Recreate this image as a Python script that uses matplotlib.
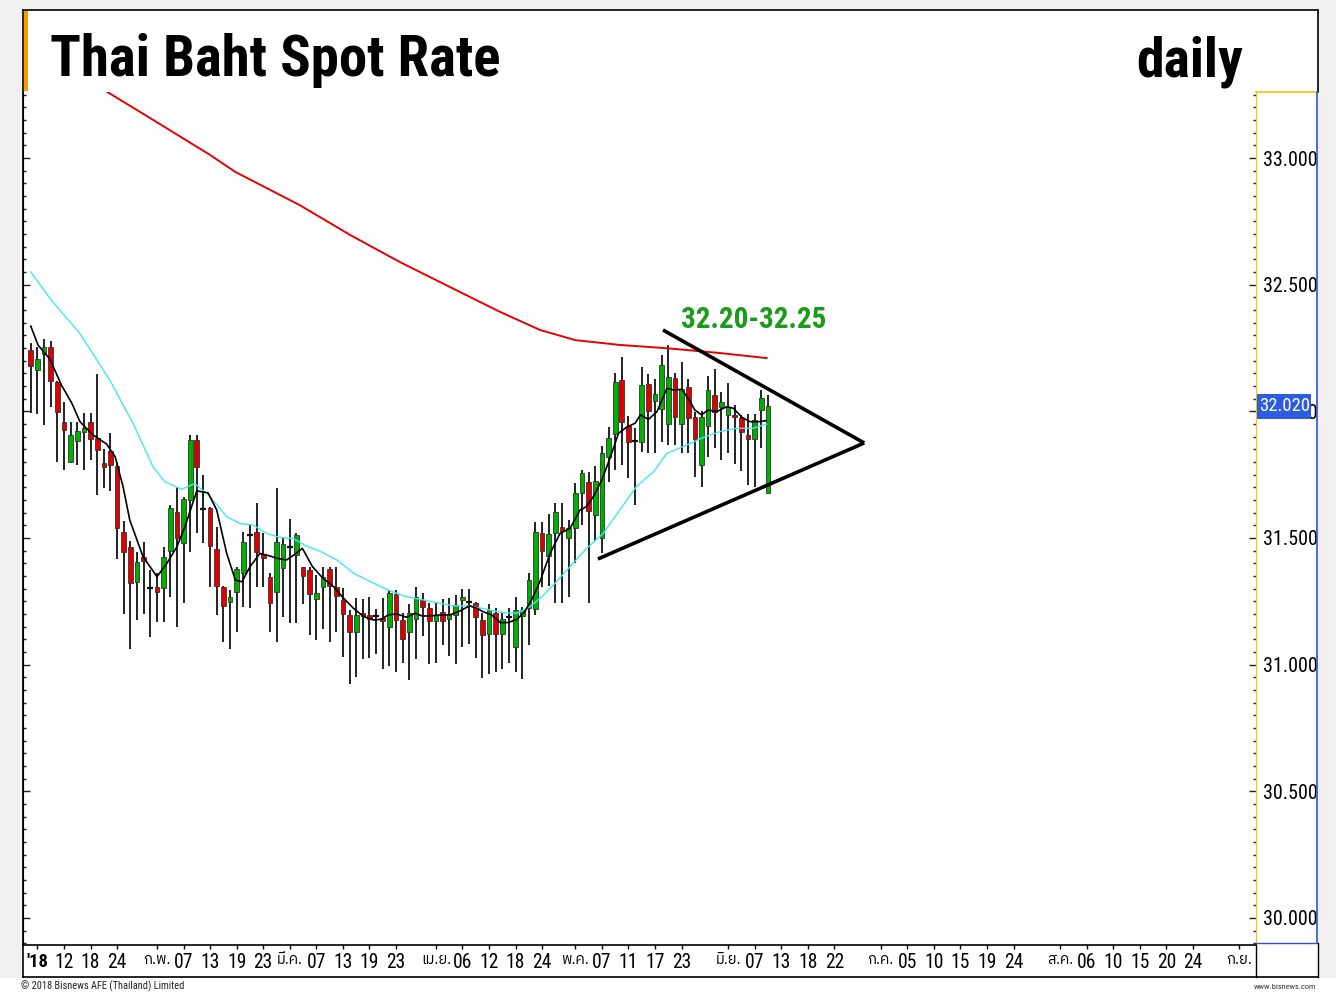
import os
import matplotlib
matplotlib.use("Agg")
import matplotlib.pyplot as plt
from matplotlib import font_manager as fm
from matplotlib.ft2font import FT2Font
from matplotlib.lines import Line2D
from matplotlib.patches import Rectangle
from matplotlib.ticker import MultipleLocator, FixedLocator, FormatStrFormatter
import matplotlib.transforms as mtrans

W, H = 1336, 993

# daily candles, index 0 = 5 Jan 2018 (weekdays)
opens = [32.242, 32.165, 32.228, 32.255, 32.117, 31.956, 31.801, 31.882, 31.919, 31.956,
         31.893, 31.797, 31.843, 31.785, 31.522, 31.464, 31.327, 31.426, 31.304, 31.305,
         31.301, 31.448, 31.604, 31.481, 31.650, 31.887, 31.613, 31.617, 31.456, 31.305,
         31.248, 31.288, 31.360, 31.511, 31.522, 31.437, 31.347, 31.288, 31.380, 31.463,
         31.433, 31.384, 31.373, 31.258, 31.308, 31.376, 31.305, 31.255, 31.196, 31.128,
         31.203, 31.196, 31.193, 31.183, 31.150, 31.277, 31.176, 31.128, 31.180, 31.255,
         31.225, 31.173, 31.209, 31.180, 31.196, 31.255, 31.246, 31.245, 31.176, 31.120,
         31.205, 31.120, 31.187, 31.071, 31.190, 31.222, 31.220, 31.521, 31.429, 31.521,
         31.542, 31.499, 31.538, 31.679, 31.722, 31.591, 31.499, 31.818, 31.910, 32.124,
         31.942, 31.884, 31.880, 32.108, 32.041, 32.008, 31.949, 32.130, 31.950, 32.095,
         31.976, 31.788, 31.942, 32.064, 32.018, 31.985, 31.985, 31.972, 31.906, 31.889,
         32.005, 31.679]
highs = [32.268, 32.255, 32.284, 32.276, 32.120, 32.038, 31.959, 31.959, 31.994, 31.994,
         32.147, 31.850, 31.915, 31.799, 31.567, 31.489, 31.446, 31.485, 31.373, 31.360,
         31.465, 31.630, 31.702, 31.663, 31.906, 31.906, 31.749, 31.623, 31.544, 31.310,
         31.295, 31.387, 31.525, 31.555, 31.639, 31.518, 31.360, 31.696, 31.498, 31.574,
         31.518, 31.387, 31.387, 31.354, 31.384, 31.384, 31.384, 31.301, 31.216, 31.262,
         31.258, 31.268, 31.220, 31.262, 31.295, 31.295, 31.203, 31.240, 31.305, 31.284,
         31.245, 31.245, 31.258, 31.262, 31.275, 31.297, 31.297, 31.249, 31.203, 31.238,
         31.222, 31.209, 31.222, 31.268, 31.229, 31.363, 31.564, 31.564, 31.593, 31.637,
         31.637, 31.571, 31.716, 31.768, 31.762, 31.784, 31.863, 31.939, 32.150, 32.213,
         31.981, 31.933, 32.176, 32.147, 32.126, 32.222, 32.262, 32.152, 32.196, 32.126,
         31.999, 32.000, 32.139, 32.166, 32.078, 32.110, 32.025, 31.985, 31.989, 31.990,
         32.084, 32.064]
lows = [31.994, 31.988, 31.946, 32.018, 31.801, 31.768, 31.795, 31.788, 31.768, 31.807,
        31.669, 31.698, 31.685, 31.417, 31.198, 31.060, 31.176, 31.198, 31.110, 31.170,
        31.169, 31.268, 31.150, 31.242, 31.446, 31.518, 31.479, 31.308, 31.196, 31.090,
        31.060, 31.127, 31.229, 31.222, 31.308, 31.308, 31.127, 31.090, 31.189, 31.163,
        31.163, 31.239, 31.117, 31.097, 31.139, 31.088, 31.130, 31.031, 30.922, 30.950,
        31.021, 31.025, 31.040, 30.982, 30.996, 30.972, 31.005, 30.939, 31.022, 31.111,
        31.003, 31.005, 31.078, 31.032, 31.001, 31.071, 31.080, 31.025, 30.949, 30.963,
        30.969, 30.981, 31.005, 30.972, 30.942, 31.078, 31.196, 31.308, 31.312, 31.242,
        31.242, 31.268, 31.403, 31.551, 31.242, 31.486, 31.439, 31.722, 31.768, 31.788,
        31.735, 31.630, 31.841, 31.834, 31.834, 31.880, 31.867, 31.867, 31.834, 31.834,
        31.739, 31.703, 31.821, 31.854, 31.808, 31.834, 31.792, 31.766, 31.709, 31.703,
        31.854, 31.676]
closes = [32.178, 32.205, 32.252, 32.119, 31.998, 31.926, 31.906, 31.922, 31.935, 31.889,
          31.847, 31.779, 31.788, 31.538, 31.446, 31.321, 31.405, 31.410, 31.304, 31.288,
          31.426, 31.617, 31.499, 31.652, 31.887, 31.779, 31.613, 31.468, 31.310, 31.231,
          31.265, 31.376, 31.485, 31.511, 31.446, 31.419, 31.242, 31.485, 31.476, 31.463,
          31.511, 31.351, 31.278, 31.281, 31.347, 31.310, 31.271, 31.199, 31.128, 31.196,
          31.190, 31.179, 31.193, 31.173, 31.284, 31.176, 31.100, 31.203, 31.266, 31.229,
          31.173, 31.196, 31.173, 31.200, 31.235, 31.268, 31.246, 31.189, 31.117, 31.216,
          31.121, 31.179, 31.187, 31.216, 31.216, 31.334, 31.522, 31.450, 31.514, 31.601,
          31.527, 31.541, 31.676, 31.755, 31.608, 31.726, 31.834, 31.893, 32.117, 31.959,
          31.880, 31.884, 32.104, 32.003, 32.067, 32.183, 32.137, 31.979, 32.087, 31.972,
          31.889, 31.979, 32.084, 31.999, 32.038, 32.018, 31.976, 31.917, 31.891, 31.966,
          32.051, 32.020]

# moving averages (index, value)
ma_short = [(0, 32.336), (1.1, 32.261), (2.9, 32.205), (4.6, 32.104), (6.2, 32.031), (7.4, 31.959),
            (9.4, 31.906), (11.4, 31.871), (12.7, 31.821), (13.9, 31.702), (14.9, 31.571), (16.9, 31.426),
            (19.0, 31.347), (20.5, 31.400), (22.0, 31.465), (23.2, 31.544), (25.0, 31.686), (26.7, 31.678),
            (28.0, 31.610), (29.5, 31.439), (30.8, 31.334), (31.8, 31.327), (33.0, 31.386), (34.5, 31.439),
            (36.0, 31.429), (37.0, 31.420), (38.5, 31.413), (39.8, 31.436), (40.9, 31.459), (42.4, 31.387),
            (44.0, 31.341), (45.6, 31.308), (47.1, 31.262), (48.6, 31.222), (50.1, 31.190), (51.6, 31.176),
            (52.8, 31.179), (53.8, 31.196), (55.1, 31.200), (56.6, 31.187), (57.9, 31.203), (58.9, 31.192),
            (60.1, 31.192), (61.6, 31.196), (63.1, 31.196), (64.4, 31.209), (66.1, 31.232), (67.2, 31.222),
            (68.1, 31.209), (69.4, 31.196), (70.7, 31.166), (71.9, 31.166), (73.2, 31.179), (74.4, 31.209),
            (75.5, 31.260), (76.7, 31.330), (78.2, 31.439), (79.7, 31.518), (81.2, 31.538), (82.7, 31.610),
            (83.7, 31.624), (84.7, 31.663), (86.0, 31.729), (87.2, 31.814), (88.5, 31.913), (89.7, 31.937),
            (91.0, 31.953), (91.8, 31.986), (93.0, 31.968), (94.3, 31.999), (95.8, 32.091), (96.8, 32.084),
            (98.0, 32.087), (99.0, 32.051), (100.0, 32.005), (101.0, 31.986), (102.0, 32.005), (103.3, 31.999),
            (104.8, 32.018), (105.8, 32.012), (107.1, 31.976), (108.3, 31.959), (109.6, 31.959), (110.7, 31.963)]
ma_mid = [(0, 32.550), (3.1, 32.439), (7.4, 32.307), (11.9, 32.123), (15.4, 31.952), (18.4, 31.781),
          (20.2, 31.722), (22.7, 31.692), (24.7, 31.715), (27.0, 31.663), (29.5, 31.584), (31.5, 31.557),
          (33.5, 31.551), (35.5, 31.518), (37.5, 31.502), (39.5, 31.498), (41.5, 31.468), (43.6, 31.447),
          (46.1, 31.413), (48.6, 31.361), (51.1, 31.328), (53.6, 31.297), (56.1, 31.271), (58.6, 31.258),
          (61.1, 31.245), (63.6, 31.232), (66.1, 31.232), (68.7, 31.218), (71.2, 31.205), (73.2, 31.203),
          (75.2, 31.229), (76.7, 31.262), (78.7, 31.314), (81.2, 31.387), (83.7, 31.459), (86.2, 31.518),
          (88.7, 31.610), (91.2, 31.703), (93.8, 31.762), (95.8, 31.834), (98.8, 31.867), (101.3, 31.897),
          (103.8, 31.920), (106.3, 31.933), (108.8, 31.933), (110.8, 31.950)]
ma_long = [(10.0, 33.290), (11.5, 33.261), (17.95, 33.158), (27.0, 33.012), (30.8, 32.945), (40.5, 32.814),
           (48.1, 32.696), (55.6, 32.589), (63.1, 32.491), (70.7, 32.392), (76.7, 32.321), (82.0, 32.281),
           (88.7, 32.262), (95.8, 32.249), (103.8, 32.230), (110.8, 32.210)]

# triangle drawn on the chart
tri_upper = [(95.2, 32.321), (125.5, 31.875)]
tri_lower = [(85.4, 31.417), (125.5, 31.875)]
target_text = "32.20-32.25"
target_pos = (108.8, 32.36)
last_value = 32.020

xtick_pos = [1, 5, 9, 13, 19, 23, 27, 31, 35, 39, 43, 47, 51, 55, 61, 65, 69, 73, 77, 82, 86, 90, 94, 98,
             105, 109, 113, 117, 121, 128, 132, 136, 140, 144, 148, 155, 159, 163, 167, 171, 175, 182]
xtick_lab = ["'18", "12", "18", "24", "ก.พ.", "07", "13", "19", "23", "มี.ค.", "07", "13", "19", "23",
             "เม.ย.", "06", "12", "18", "24", "พ.ค.", "07", "11", "17", "23", "มิ.ย.", "07", "13", "18", "22",
             "ก.ค.", "05", "10", "15", "19", "24", "ส.ค.", "06", "10", "15", "20", "24", "ก.ย."]


def narrow_font(bold):
    # look for a condensed sans face, else plain Liberation Sans / DejaVu
    wants = (["liberationsansnarrow-bold.", "robotocondensed-bold.", "dejavusanscondensed-bold.",
              "opensans_condensed-bold.", "opensanscondensed-bold."] if bold else
             ["liberationsansnarrow-regular.", "robotocondensed-regular.", "dejavusanscondensed.",
              "opensans_condensed-regular.", "opensanscondensed-regular."])
    files = [f.fname for f in fm.fontManager.ttflist]
    for w in wants:
        for p in files:
            if os.path.basename(p).lower().startswith(w):
                return fm.FontProperties(fname=p)
    return fm.FontProperties(family=["Liberation Sans", "DejaVu Sans"], weight="bold" if bold else "normal")


def thai_font():
    fonts = sorted(fm.fontManager.ttflist, key=lambda f: "Thai" not in f.name)
    for f in fonts:
        try:
            if 0x0E01 in FT2Font(f.fname).get_charmap():
                return f.name
        except Exception:
            pass
    return "DejaVu Sans"


REG = narrow_font(False)
BOLD = narrow_font(True)
THAI = thai_font()

fig = plt.figure(figsize=(W / 100, H / 100), dpi=100)
fig.patch.set_facecolor("#f0f0f0")
renderer = fig.canvas.get_renderer()


def fx(x): return x / W
def fy(y): return 1 - y / H


def fit(t, width_px):
    # scale the font so the text spans the width seen in the reference
    t.set_fontsize(10)
    w = t.get_window_extent(renderer).width
    t.set_fontsize(10 * width_px / w)
    return t


def size_for(text, prop, width_px):
    t = fig.text(0, 0, text, fontproperties=prop)
    fit(t, width_px)
    s = t.get_fontsize()
    t.remove()
    return s


def fline(x0, y0, x1, y1, color="black", lw=1.0):
    fig.add_artist(Line2D([fx(x0), fx(x1)], [fy(y0), fy(y1)], color=color, lw=lw, transform=fig.transFigure))


def frect(x0, y0, x1, y1, color):
    fig.add_artist(Rectangle((fx(x0), fy(y1)), fx(x1) - fx(x0), fy(y0) - fy(y1), facecolor=color,
                             edgecolor="none", transform=fig.transFigure, zorder=-5))


frect(23, 10, 1318, 978, "white")
frect(0, 978, W, H, "white")
frect(24, 11, 28, 91, "#ff9900")

ax = fig.add_axes([fx(23), fy(945), fx(1256) - fx(23), fy(92) - fy(945)])
ax.set_facecolor("white")
ax.set_xlim(-1.175, 184.5)
ax.set_ylim(29.893, 33.2606)

n = len(closes)
idx = list(range(n))
ax.vlines(idx, lows, highs, color="#111111", lw=1.3, zorder=2)
for i in idx:
    o, c = opens[i], closes[i]
    col = "#00b000" if c >= o else "#e00000"
    h = abs(c - o)
    if h < 0.004:
        ax.hlines(o, i - 0.45, i + 0.45, color="#111111", lw=1.6, zorder=3)
    else:
        ax.bar(i, h, bottom=min(o, c), width=0.7, color=col, edgecolor="#333333", lw=0.6, zorder=3)

for series, col, lw in ((ma_mid, "#40e8f0", 1.0), (ma_long, "#e80000", 1.4), (ma_short, "black", 1.2)):
    xs, ys = zip(*series)
    ax.plot(xs, ys, color=col, lw=lw, zorder=4)

for seg in (tri_upper, tri_lower):
    xs, ys = zip(*seg)
    ax.plot(xs, ys, color="black", lw=2.6, zorder=5, solid_capstyle="butt")
fit(ax.text(target_pos[0], target_pos[1], target_text, color="#1a9c1a", fontproperties=BOLD,
            ha="center", va="center", zorder=6), 146)

# axes styling
ax.spines["top"].set_visible(False)
ax.spines["left"].set_color("black")
ax.spines["bottom"].set_color("black")
ax.spines["bottom"].set_linewidth(1.2)
ax.spines["right"].set_color("#f5c400")
ax.yaxis.set_major_locator(MultipleLocator(0.5))
ax.yaxis.set_minor_locator(MultipleLocator(0.05))
ax.yaxis.set_major_formatter(FormatStrFormatter("%.3f"))
ysize = size_for("33.000", REG, 54)
ax.tick_params(axis="y", which="both", direction="in", left=True, right=True, labelleft=False,
               labelright=True, pad=5, color="#222222")
ax.tick_params(axis="y", which="major", length=5, width=1)
ax.tick_params(axis="y", which="minor", length=2.5, width=1)
for lab in ax.get_yticklabels():
    lab.set_fontproperties(REG)
    lab.set_fontsize(ysize)

ax.xaxis.set_major_locator(FixedLocator(xtick_pos))
ax.set_xticklabels(xtick_lab)
ax.tick_params(axis="x", which="major", direction="out", length=3, width=1, pad=3)
xsize = size_for("23", REG, 19)
bsize = size_for("'18", BOLD, 22)
for lab in ax.get_xticklabels():
    t = lab.get_text()
    if any("\u0e00" <= ch <= "\u0e7f" for ch in t):
        lab.set_fontfamily([THAI, "DejaVu Sans"])
        lab.set_fontsize(10.5)
    elif t.startswith("'"):
        lab.set_fontproperties(BOLD)
        lab.set_fontsize(bsize)
    else:
        lab.set_fontproperties(REG)
        lab.set_fontsize(xsize)

# last value marker on the right scale, laid over the 32.000 label as in the source
blend = mtrans.blended_transform_factory(ax.transAxes, ax.transData)
ax_w = 1256 - 23
px_y = (33.2606 - 29.893) / (945 - 92)
ax.add_patch(Rectangle((1 + 1 / ax_w, last_value - 12.5 * px_y), 54 / ax_w, 25 * px_y, transform=blend,
                       facecolor="#2d5ce0", edgecolor="none", zorder=9, clip_on=False))
lv = ax.text(1 + 3 / ax_w, last_value, f"{last_value:.3f}", transform=blend, color="white", fontproperties=REG,
             ha="left", va="center", zorder=10, clip_on=False)
fit(lv, 50)

# frame lines
fline(23, 10, 1318, 10, lw=1.2)
fline(23, 10, 23, 977, lw=1.2)
fline(1318, 10, 1318, 92, lw=1.2)
fline(1256, 92, 1317, 92, color="#f5c400", lw=1.2)
fline(1317, 92, 1317, 943, color="#3050d0", lw=1.2)
fline(1256, 943, 1317, 943, color="#3050d0", lw=1.0)
fline(23, 977, 1318, 977, lw=1.2)
fline(1256, 945, 1256, 977, lw=1.0)
fline(1318, 943, 1318, 977, lw=1.0)

# titles and footer
fit(fig.text(fx(50), fy(76), "Thai Baht Spot Rate", fontproperties=BOLD, va="baseline", ha="left"), 450)
fit(fig.text(fx(1243), fy(76), "daily", fontproperties=BOLD, va="baseline", ha="right"), 108)
fit(fig.text(fx(21), fy(986), "© 2018 Bisnews AFE (Thailand) Limited", fontproperties=REG, va="center",
             ha="left", color="#222222"), 163)
fit(fig.text(fx(1316), fy(987), "www.bisnews.com", fontproperties=REG, va="center", ha="right",
             color="#333333"), 62)

fig.savefig("out.png", dpi=100, facecolor=fig.get_facecolor())
